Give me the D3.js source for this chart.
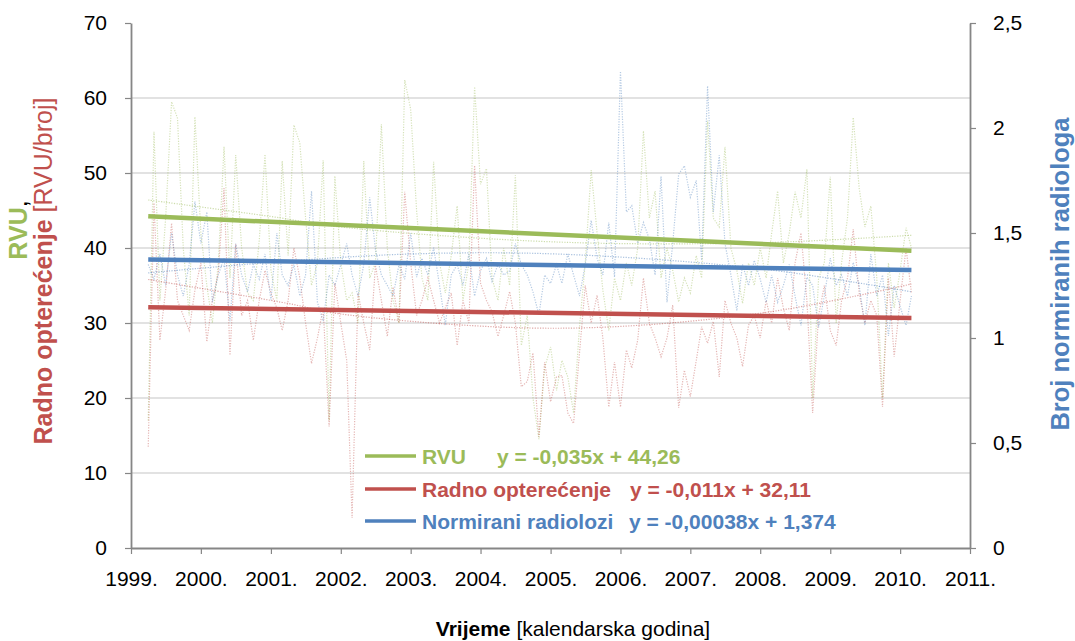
<!DOCTYPE html>
<html>
<head>
<meta charset="utf-8">
<script src="https://cdn.jsdelivr.net/npm/d3@7"></script>
<style>
  body { margin: 0; background: #fff; }
  svg { display: block; font-family: "Liberation Sans", Arial, sans-serif; }
</style>
</head>
<body>
<svg id="chart" width="1075" height="641"></svg>
<script>
// Monthly series, April 1999 .. March 2010
const firstMonth = { year: 1999, month: 3 }; // JS month index (3 = April)

// RVU per month (left axis)
const rvu = [
  17, 55.5, 33, 44, 59.5, 57.3, 40, 31, 57.5, 42,
  35, 30, 38, 53.5, 36, 52.4, 40, 34, 33, 41,
  52.5, 37, 33, 51.6, 39, 56.4, 54, 44, 35, 38,
  51.7, 17, 49.6, 38, 33, 34, 30, 51.6, 36, 38,
  56.5, 40, 33, 30, 62.4, 58.5, 45, 36, 33, 51.5,
  38, 34, 39, 45.6, 33, 38, 61.5, 48.5, 50.6, 36,
  33, 40, 35, 49.7, 27, 31, 20, 14.5, 24, 26.8,
  21, 25, 22.8, 18, 29.5, 38, 50.4, 42, 34.4, 29,
  36, 33, 38, 35, 40, 55.6, 44, 47.6, 36, 40,
  37, 32.8, 36, 34, 39, 36, 57, 44, 42.8, 53.5,
  40, 37, 32.6, 38, 35, 40, 36, 42, 47.6, 38,
  42, 47.5, 44, 50.5, 20, 36, 38, 49.5, 30, 38,
  44, 57.4, 48, 42.8, 45.6, 36, 20, 38, 32, 37,
  42.7, 40
];

// Radno opterećenje [RVU/broj] per month (left axis)
const workload = [
  13.5, 46, 27.7, 34.4, 43.3, 33, 31, 29, 34.4, 38,
  27.5, 33, 36.7, 48, 25.7, 40.5, 31, 33, 27.7, 33,
  37, 34, 32, 29, 33, 40, 36, 30, 24.6, 28,
  32, 16.2, 35.3, 30, 25, 4, 34, 30, 26.4, 37.7,
  33, 28.2, 34.8, 30, 47.5, 38, 31, 33, 36, 33,
  30, 32, 34, 27, 33, 30, 51, 35.3, 33, 31.5,
  28.2, 31, 34.2, 30, 21.5, 22.2, 26, 14.8, 24.8, 19.5,
  22.8, 23, 18, 16.6, 26, 35, 30, 33.7, 28, 18.8,
  24.8, 18.8, 26.4, 24, 27.7, 36, 30, 28, 25.5, 28,
  32.4, 18.7, 23.7, 20.2, 25, 29.5, 27.3, 30.2, 22.8, 33,
  30, 28, 24.2, 29.7, 31, 28, 33, 30, 36, 32,
  29, 38, 42, 33, 18, 31, 35, 29, 27, 33,
  36, 42.5, 34, 30, 33, 31, 18.8, 36, 25.5, 33,
  40, 34
];

// Broj normiranih radiologa per month (right axis)
const radiologists = [
  1.35, 1.28, 1.4, 1.25, 1.5, 1.3, 1.2, 1.35, 1.65, 1.45,
  1.6, 1.17, 1.3, 1.38, 1.08, 1.45, 1.3, 1.22, 1.35, 1.28,
  1.4, 1.18, 1.5, 1.3, 1.25, 1.35, 1.2, 1.3, 1.7, 1.17,
  1.08, 1.3, 1.25, 1.35, 1.45, 1.3, 1.2, 1.35, 1.67, 1.42,
  1.3, 1.25, 1.2, 1.35, 1.28, 1.5, 1.29, 1.38, 1.3, 1.43,
  1.25, 1.06, 1.3, 1.35, 1.25, 1.4, 1.2, 1.32, 1.38, 1.27,
  1.35, 1.3, 1.32, 1.45, 1.35, 1.3, 1.22, 1.11, 1.3, 1.26,
  1.35, 1.26, 1.4, 1.3, 1.2, 1.35, 1.56, 1.38, 1.3, 1.55,
  1.29, 2.27, 1.6, 1.63, 1.45, 1.55, 1.47, 1.3, 1.77, 1.17,
  1.45, 1.78, 1.82, 1.67, 1.75, 1.37, 2.2, 1.6, 1.87, 1.45,
  1.3, 1.13, 1.35, 1.25, 1.37, 1.28, 1.17, 1.3, 1.17, 1.25,
  1.35, 1.2, 1.06, 1.29, 1.25, 1.05, 1.2, 1.38, 1.25, 1.3,
  1.2, 1.36, 1.25, 1.06, 1.4, 1.2, 1.3, 1.01, 1.25, 1.15,
  1.06, 1.2
];

// Linear trends (x = month number, starting at 1)
const rvuTrend = { slope: -0.035, intercept: 44.26, label: "y = -0,035x + 44,26" };
const workloadTrend = { slope: -0.011, intercept: 32.11, label: "y = -0,011x + 32,11" };
const radiologistsTrend = { slope: -0.00038, intercept: 1.374, label: "y = -0,00038x + 1,374" };

// Smooth polynomial trend curves, [month index, value]
const rvuCurve = [[0, 46.4], [21, 44.2], [33, 42.8], [70, 40.8], [105, 40.7], [131, 41.7]];
const workloadCurve = [[0, 35.8], [24, 32.6], [33, 31.2], [70, 29.3], [105, 31.3], [131, 35.2]];
const radiologistsCurve = [[0, 1.31], [21, 1.36], [45, 1.40], [70, 1.40], [105, 1.33], [131, 1.22]];

// Axis ticks
const leftTicks = [0, 10, 20, 30, 40, 50, 60, 70];
const rightTicks = [0, 0.5, 1, 1.5, 2, 2.5];
const yearTicks = d3.range(1999, 2012);

const colors = { rvu: "#9BBB59", workload: "#C0504D", radiologists: "#4F81BD" };

const svg = d3.select("#chart");
const plot = { left: 131, right: 970, top: 23, bottom: 548 };

const monthDate = i => new Date(firstMonth.year, firstMonth.month + i, 1);

const x = d3.scaleTime()
  .domain([new Date(1999, 0, 1), new Date(2011, 0, 1)])
  .range([plot.left, plot.right]);
const yL = d3.scaleLinear().domain([0, 70]).range([plot.bottom, plot.top]);
const yR = d3.scaleLinear().domain([0, 2.5]).range([plot.bottom, plot.top]);

// Horizontal gridlines
svg.append("g")
  .selectAll("line")
  .data(leftTicks.filter(v => v > 0 && v < 70))
  .join("line")
  .attr("x1", plot.left).attr("x2", plot.right)
  .attr("y1", d => yL(d)).attr("y2", d => yL(d))
  .attr("stroke", "#D9D9D9").attr("stroke-width", 1.5);

// Axes
const axisColor = "#868686";
function styleAxis(g) {
  g.selectAll(".domain").attr("stroke", axisColor).attr("stroke-width", 1.8);
  g.selectAll(".tick line").attr("stroke", axisColor).attr("stroke-width", 1.2);
  g.selectAll(".tick text").attr("fill", "#000").attr("font-size", 21);
}

svg.append("g")
  .attr("transform", `translate(${plot.left},0)`)
  .call(d3.axisLeft(yL).tickValues(leftTicks).tickSize(6).tickSizeOuter(0).tickPadding(18).tickFormat(d3.format("d")))
  .call(styleAxis)
  .call(g => g.attr("font-family", null));

svg.append("g")
  .attr("transform", `translate(${plot.right},0)`)
  .call(d3.axisRight(yR).tickValues(rightTicks).tickSize(6).tickSizeOuter(0).tickPadding(17)
    .tickFormat(d => String(d).replace(".", ",")))
  .call(styleAxis)
  .call(g => g.attr("font-family", null));

svg.append("g")
  .attr("transform", `translate(0,${plot.bottom})`)
  .call(d3.axisBottom(x).tickValues(yearTicks.map(y => new Date(y, 0, 1))).tickSize(6).tickSizeOuter(0).tickPadding(17)
    .tickFormat(d3.timeFormat("%Y.")))
  .call(styleAxis)
  .call(g => g.attr("font-family", null));

// Monthly series (thin dotted)
const lineL = d3.line().x((d, i) => x(monthDate(i))).y(d => yL(d));
const lineR = d3.line().x((d, i) => x(monthDate(i))).y(d => yR(d));

const seriesLayer = svg.append("g").attr("fill", "none");
[
  { data: rvu, gen: lineL, color: colors.rvu },
  { data: workload, gen: lineL, color: colors.workload },
  { data: radiologists, gen: lineR, color: colors.radiologists }
].forEach(s => {
  seriesLayer.append("path")
    .attr("d", s.gen(s.data))
    .attr("stroke", s.color)
    .attr("stroke-width", 1.2)
    .attr("stroke-dasharray", "1.2 1.4")
    .attr("stroke-opacity", 0.42);
});

// Polynomial trend curves (thin dotted)
const curveL = d3.line().curve(d3.curveCatmullRom).x(d => x(monthDate(d[0]))).y(d => yL(d[1]));
const curveR = d3.line().curve(d3.curveCatmullRom).x(d => x(monthDate(d[0]))).y(d => yR(d[1]));
[
  { data: rvuCurve, gen: curveL, color: colors.rvu },
  { data: workloadCurve, gen: curveL, color: colors.workload },
  { data: radiologistsCurve, gen: curveR, color: colors.radiologists }
].forEach(s => {
  seriesLayer.append("path")
    .attr("d", s.gen(s.data))
    .attr("stroke", s.color)
    .attr("stroke-width", 1.2)
    .attr("stroke-dasharray", "1.2 1.4")
    .attr("stroke-opacity", 0.5);
});

// Linear trend lines (thick)
function trendPoints(trend, n) {
  return [1, n].map(k => ({ i: k - 1, v: trend.slope * k + trend.intercept }));
}
const trendLayer = svg.append("g").attr("fill", "none");
[
  { t: rvuTrend, n: rvu.length, y: yL, color: colors.rvu },
  { t: workloadTrend, n: workload.length, y: yL, color: colors.workload },
  { t: radiologistsTrend, n: radiologists.length, y: yR, color: colors.radiologists }
].forEach(s => {
  const gen = d3.line().x(d => x(monthDate(d.i))).y(d => s.y(d.v));
  trendLayer.append("path")
    .attr("d", gen(trendPoints(s.t, s.n)))
    .attr("stroke", s.color)
    .attr("stroke-width", 4.5)
    .attr("stroke-linecap", "butt");
});

// Legend with trend equations
const legendItems = [
  { name: "RVU", color: colors.rvu, eq: rvuTrend.label, y: 456, eqX: 497 },
  { name: "Radno opterećenje", color: colors.workload, eq: workloadTrend.label, y: 489, eqX: 630 },
  { name: "Normirani radiolozi", color: colors.radiologists, eq: radiologistsTrend.label, y: 521, eqX: 629 }
];
const legend = svg.append("g").attr("font-size", 21).attr("font-weight", "bold");
legendItems.forEach(it => {
  legend.append("line")
    .attr("x1", 365).attr("x2", 416)
    .attr("y1", it.y).attr("y2", it.y)
    .attr("stroke", it.color).attr("stroke-width", 3.5);
  legend.append("text")
    .attr("x", 422).attr("y", it.y + 7.5)
    .attr("fill", it.color).text(it.name);
  legend.append("text")
    .attr("x", it.eqX).attr("y", it.y + 7.5)
    .attr("fill", it.color).text(it.eq);
});

// Axis titles
const leftTitle = svg.append("text")
  .attr("transform", "translate(27,230) rotate(-90)")
  .attr("text-anchor", "middle")
  .attr("font-size", 25);
leftTitle.append("tspan").attr("font-weight", "bold").attr("fill", colors.rvu).text("RVU");
leftTitle.append("tspan").attr("fill", "#000").text(",");

const leftTitle2 = svg.append("text")
  .attr("transform", "translate(52,271) rotate(-90)")
  .attr("text-anchor", "middle")
  .attr("font-size", 25)
  .attr("fill", colors.workload);
leftTitle2.append("tspan").attr("font-weight", "bold").text("Radno opterećenje");
leftTitle2.append("tspan").text(" [RVU/broj]");

svg.append("text")
  .attr("transform", "translate(1069,274) rotate(-90)")
  .attr("text-anchor", "middle")
  .attr("font-size", 25.5)
  .attr("font-weight", "bold")
  .attr("fill", colors.radiologists)
  .text("Broj normiranih radiologa");

const xTitle = svg.append("text")
  .attr("x", 573).attr("y", 636)
  .attr("text-anchor", "middle")
  .attr("font-size", 21)
  .attr("fill", "#000");
xTitle.append("tspan").attr("font-weight", "bold").text("Vrijeme");
xTitle.append("tspan").text(" [kalendarska godina]");
</script>
</body>
</html>
